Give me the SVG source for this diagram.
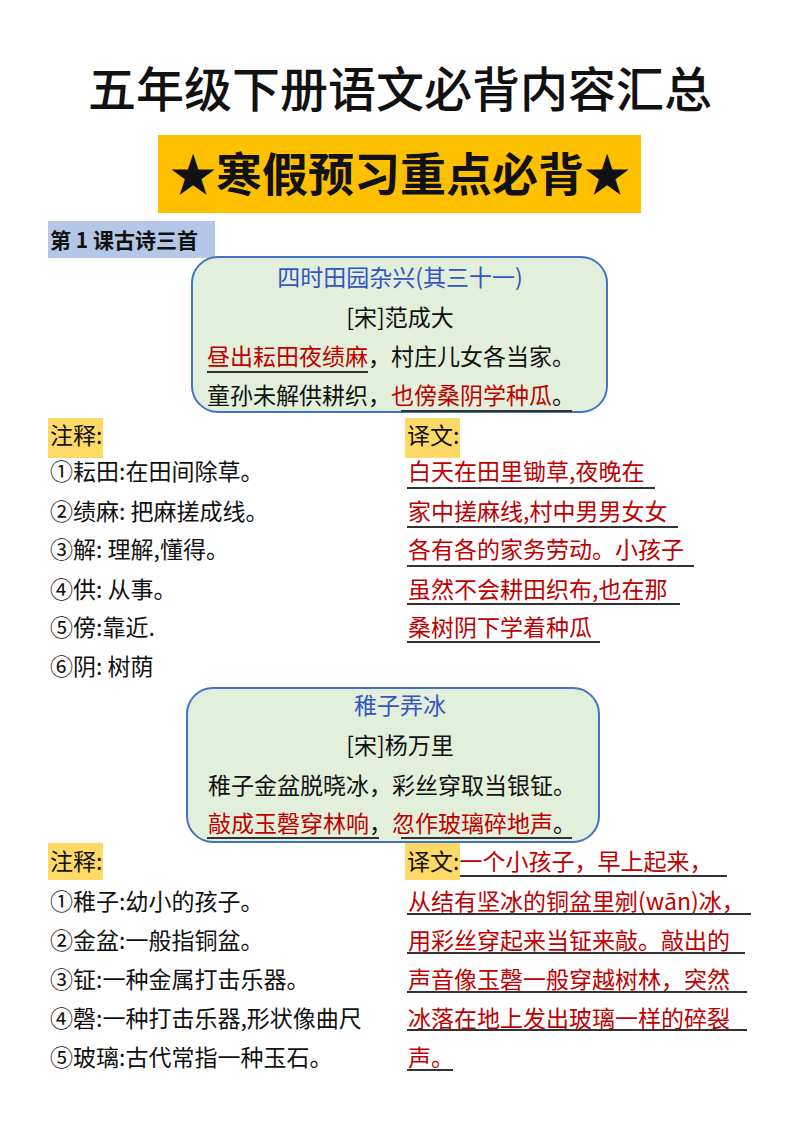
<svg xmlns="http://www.w3.org/2000/svg" width="800" height="1132" viewBox="0 0 800 1132">
<style>
text{font-family:"Noto Sans CJK SC","Noto Sans",sans-serif;fill:#111}
.b{font-size:23px}
.r{fill:#c00000}
.bl{fill:#3355c4}
.c{text-anchor:middle}
.u{stroke:#333;stroke-width:2}
.box{fill:#e2efda;stroke:#4472c4;stroke-width:2}
.hl{fill:#ffd966}
</style>
<rect width="800" height="1132" fill="#fff"/>
<text x="400" y="107" class="c" font-size="48" font-weight="500">五年级下册语文必背内容汇总</text>
<rect x="158" y="135" width="483" height="78" fill="#ffc000"/>
<text x="400" y="191" class="c" font-size="46" font-weight="bold">★寒假预习重点必背★</text>
<rect x="48" y="221" width="167" height="37" fill="#b4c7e7"/>
<text x="50" y="248" font-size="21" font-weight="bold">第 1 课古诗三首</text>
<g id="poem1">
<rect x="192" y="257" width="415" height="155" rx="26" class="box"/>
<text x="400" y="286" class="b c bl">四时田园杂兴(其三十一)</text>
<text x="400" y="326" class="b c">[宋]范成大</text>
<text x="207" y="365" class="b"><tspan class="r">昼出耘田夜绩麻</tspan>，村庄儿女各当家。</text>
<line x1="207" y1="372" x2="368" y2="372" class="u"/>
<text x="207" y="404" class="b">童孙未解供耕织，<tspan class="r">也傍桑阴学种瓜</tspan>。</text>
<line x1="401" y1="411" x2="572" y2="411" class="u"/>
</g>
<g id="notes1">
<rect x="48" y="418" width="55" height="40" class="hl"/>
<rect x="405" y="418" width="55" height="40" class="hl"/>
<text x="50" y="444" class="b">注释:</text>
<text x="407" y="444" class="b">译文:</text>
<text x="50" y="480" class="b">①耘田:在田间除草。</text>
<text x="50" y="520" class="b">②绩麻:  把麻搓成线。</text>
<text x="50" y="558" class="b">③解:  理解,懂得。</text>
<text x="50" y="598" class="b">④供:  从事。</text>
<text x="50" y="636" class="b">⑤傍:靠近.</text>
<text x="50" y="675" class="b">⑥阴:  树荫</text>
<text x="408" y="480" class="b r">白天在田里锄草,夜晚在</text>
<text x="408" y="520" class="b r">家中搓麻线,村中男男女女</text>
<text x="408" y="558" class="b r">各有各的家务劳动。小孩子</text>
<text x="408" y="598" class="b r">虽然不会耕田织布,也在那</text>
<text x="408" y="636" class="b r">桑树阴下学着种瓜</text>
<line x1="407" y1="488" x2="655" y2="488" class="u"/>
<line x1="407" y1="527" x2="678" y2="527" class="u"/>
<line x1="407" y1="566" x2="694" y2="566" class="u"/>
<line x1="407" y1="604" x2="680" y2="604" class="u"/>
<line x1="407" y1="642" x2="600" y2="642" class="u"/>
</g>
<g id="poem2">
<rect x="187" y="688" width="412" height="154" rx="26" class="box"/>
<text x="400" y="714" class="b c bl">稚子弄冰</text>
<text x="400" y="754" class="b c">[宋]杨万里</text>
<text x="208" y="794" class="b">稚子金盆脱晓冰，彩丝穿取当银钲。</text>
<text x="208" y="832" class="b"><tspan class="r">敲成玉磬穿林响</tspan>，<tspan class="r">忽作玻璃碎地声</tspan>。</text>
<line x1="207" y1="838" x2="379" y2="838" class="u"/>
<line x1="401" y1="838" x2="572" y2="838" class="u"/>
</g>
<g id="notes2">
<rect x="48" y="843" width="55" height="37" class="hl"/>
<rect x="405" y="843" width="55" height="37" class="hl"/>
<text x="50" y="870" class="b">注释:</text>
<text x="407" y="870" class="b">译文:<tspan class="r">一个小孩子，早上起来，</tspan></text>
<text x="50" y="910" class="b">①稚子:幼小的孩子。</text>
<text x="50" y="949" class="b">②金盆:一般指铜盆。</text>
<text x="50" y="988" class="b">③钲:一种金属打击乐器。</text>
<text x="50" y="1027" class="b">④磬:一种打击乐器,形状像曲尺</text>
<text x="50" y="1066" class="b">⑤玻璃:古代常指一种玉石。</text>
<text x="408" y="910" class="b r">从结有坚冰的铜盆里剜(wān)冰，</text>
<text x="408" y="949" class="b r">用彩丝穿起来当钲来敲。敲出的</text>
<text x="408" y="988" class="b r">声音像玉磬一般穿越树林，突然</text>
<text x="408" y="1027" class="b r">冰落在地上发出玻璃一样的碎裂</text>
<text x="408" y="1066" class="b r">声。</text>
<line x1="460" y1="876" x2="727" y2="876" class="u"/>
<line x1="407" y1="914" x2="751" y2="914" class="u"/>
<line x1="407" y1="953" x2="745" y2="953" class="u"/>
<line x1="407" y1="992" x2="747" y2="992" class="u"/>
<line x1="407" y1="1030" x2="747" y2="1030" class="u"/>
<line x1="407" y1="1070" x2="453" y2="1070" class="u"/>
</g>
</svg>
